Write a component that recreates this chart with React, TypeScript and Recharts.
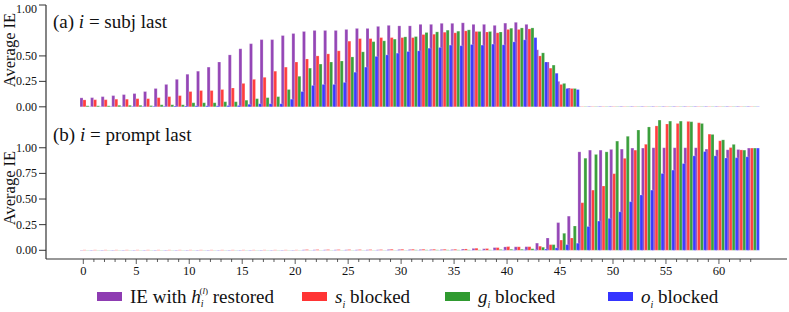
import React from 'react';
import { BarChart, Bar, XAxis, YAxis, Legend } from 'recharts';

// ---------------- data ----------------
const layers = [
  0, 1, 2, 3, 4, 5, 6, 7, 8, 9, 10, 11, 12, 13, 14, 15, 16, 17, 18, 19, 20, 21, 22, 23, 24, 25, 26, 27, 28, 29, 30, 31,
  32, 33, 34, 35, 36, 37, 38, 39, 40, 41, 42, 43, 44, 45, 46, 47, 48, 49, 50, 51, 52, 53, 54, 55, 56, 57, 58, 59, 60, 61, 62, 63,
];

const yTicks = [0, 0.25, 0.5, 0.75, 1.0];

const seriesNames = ['IE with h restored', 's blocked', 'g blocked', 'o blocked'];

// (a) i = subj last
const restoredA = [
  0.088, 0.09, 0.1, 0.11, 0.12, 0.13, 0.15, 0.18, 0.22, 0.27, 0.32, 0.35, 0.39, 0.44, 0.51, 0.57,
  0.62, 0.66, 0.66, 0.7, 0.72, 0.74, 0.75, 0.75, 0.75, 0.76, 0.77, 0.77, 0.79, 0.8, 0.795, 0.795,
  0.81, 0.81, 0.82, 0.82, 0.825, 0.81, 0.81, 0.8, 0.822, 0.83, 0.81, 0.56, 0.44, 0.25, 0.185, 0.004,
  0.004, 0.004, 0.004, 0.004, 0.004, 0.004, 0.004, 0.004, 0.004, 0.004, 0.004, 0.004, 0.004, 0.004, 0.004, 0.004,
];
const sBlockedA = [
  0.068, 0.07, 0.07, 0.075, 0.075, 0.08, 0.08, 0.09, 0.1, 0.11, 0.15, 0.16, 0.16, 0.17, 0.185, 0.23,
  0.27, 0.29, 0.35, 0.39, 0.44, 0.47, 0.5, 0.52, 0.55, 0.645, 0.67, 0.67, 0.68, 0.68, 0.68, 0.68,
  0.71, 0.713, 0.733, 0.727, 0.746, 0.74, 0.735, 0.727, 0.76, 0.76, 0.765, 0.5, 0.38, 0.22, 0.18, 0.003,
  0.003, 0.003, 0.003, 0.003, 0.003, 0.003, 0.003, 0.003, 0.003, 0.003, 0.003, 0.003, 0.003, 0.003, 0.003, 0.003,
];
const gBlockedA = [
  0.01, 0.01, 0.01, 0.015, 0.015, 0.015, 0.012, 0.02, 0.02, 0.02, 0.04, 0.04, 0.04, 0.05, 0.05, 0.065,
  0.08, 0.09, 0.1, 0.17, 0.3, 0.38, 0.42, 0.44, 0.45, 0.49, 0.54, 0.64, 0.648, 0.665, 0.687, 0.69,
  0.73, 0.736, 0.753, 0.743, 0.756, 0.74, 0.74, 0.735, 0.772, 0.775, 0.775, 0.53, 0.41, 0.23, 0.18, 0.003,
  0.003, 0.003, 0.003, 0.003, 0.003, 0.003, 0.003, 0.003, 0.003, 0.003, 0.003, 0.003, 0.003, 0.003, 0.003, 0.003,
];
const oBlockedA = [
  0.003, 0.003, 0.004, 0.004, 0.005, 0.005, 0.006, 0.006, 0.008, 0.008, 0.01, 0.01, 0.01, 0.012, 0.013, 0.025,
  0.03, 0.03, 0.03, 0.075, 0.15, 0.21, 0.22, 0.22, 0.24, 0.34, 0.39, 0.495, 0.51, 0.527, 0.543, 0.55,
  0.576, 0.583, 0.606, 0.6, 0.612, 0.606, 0.616, 0.609, 0.638, 0.658, 0.68, 0.44, 0.33, 0.18, 0.17, 0.003,
  0.003, 0.003, 0.003, 0.003, 0.003, 0.003, 0.003, 0.003, 0.003, 0.003, 0.003, 0.003, 0.003, 0.003, 0.003, 0.003,
];

// (b) i = prompt last
const restoredB = [
  0.003, 0.003, 0.003, 0.003, 0.003, 0.003, 0.003, 0.003, 0.003, 0.003, 0.003, 0.003, 0.003, 0.003, 0.003, 0.003,
  0.003, 0.003, 0.003, 0.003, 0.003, 0.005, 0.005, 0.005, 0.005, 0.005, 0.005, 0.005, 0.005, 0.008, 0.008, 0.008,
  0.008, 0.008, 0.008, 0.008, 0.012, 0.018, 0.015, 0.026, 0.033, 0.034, 0.035, 0.07, 0.12, 0.27, 0.333, 0.96,
  0.977, 0.977, 0.984, 0.987, 0.997, 0.997, 1.0, 1.0, 1.0, 1.0, 1.0, 0.987, 0.98, 0.98, 0.983, 0.997,
];
const sBlockedB = [
  0.004, 0.004, 0.004, 0.004, 0.004, 0.004, 0.004, 0.004, 0.004, 0.004, 0.004, 0.004, 0.004, 0.004, 0.004, 0.004,
  0.004, 0.004, 0.004, 0.004, 0.004, 0.007, 0.007, 0.007, 0.007, 0.007, 0.007, 0.007, 0.007, 0.01, 0.01, 0.01,
  0.01, 0.01, 0.01, 0.01, 0.013, 0.02, 0.017, 0.026, 0.036, 0.034, 0.035, 0.04, 0.055, 0.1, 0.12, 0.464,
  0.587, 0.627, 0.747, 0.897, 0.977, 1.034, 1.213, 1.232, 1.237, 1.257, 1.244, 1.133, 1.068, 1.002, 0.979, 0.997,
];
const gBlockedB = [
  0.002, 0.002, 0.002, 0.002, 0.002, 0.002, 0.002, 0.002, 0.002, 0.002, 0.002, 0.002, 0.002, 0.002, 0.002, 0.002,
  0.002, 0.002, 0.002, 0.002, 0.002, 0.002, 0.002, 0.002, 0.002, 0.002, 0.002, 0.002, 0.002, 0.002, 0.002, 0.004,
  0.004, 0.004, 0.004, 0.004, 0.004, 0.004, 0.004, 0.008, 0.01, 0.01, 0.015, 0.03, 0.055, 0.166, 0.237, 0.898,
  0.935, 0.96, 1.065, 1.112, 1.173, 1.203, 1.27, 1.26, 1.26, 1.254, 1.237, 1.13, 1.077, 1.033, 0.977, 0.997,
];
const oBlockedB = [
  0.002, 0.002, 0.002, 0.002, 0.002, 0.002, 0.002, 0.002, 0.002, 0.002, 0.002, 0.002, 0.002, 0.002, 0.002, 0.002,
  0.002, 0.002, 0.002, 0.002, 0.002, 0.002, 0.002, 0.002, 0.002, 0.002, 0.002, 0.002, 0.002, 0.002, 0.002, 0.002,
  0.002, 0.002, 0.002, 0.002, 0.002, 0.002, 0.002, 0.004, 0.005, 0.006, 0.006, 0.012, 0.023, 0.055, 0.069, 0.232,
  0.285, 0.311, 0.375, 0.474, 0.539, 0.587, 0.749, 0.782, 0.846, 0.921, 0.963, 0.921, 0.9, 0.903, 0.912, 0.997,
];

// ---------------- styles ----------------
const FONT = "'Liberation Serif', 'DejaVu Serif', serif";
const COLORS = ['#8e3cb2', '#ff3434', '#2f9a30', '#3434ff'];
const AXIS = '#333333';
const W = 789;

const rowsA = layers.map((l, i) => ({ layer: l, h: restoredA[i], s: sBlockedA[i], g: gBlockedA[i], o: oBlockedA[i] }));
const rowsB = layers.map((l, i) => ({ layer: l, h: restoredB[i], s: sBlockedB[i], g: gBlockedB[i], o: oBlockedB[i] }));

const X_PAD = { left: 34, right: 29 };
const TICK_SHIFT = -2;

const XTick = (props: any) => {
  const { x, y, payload } = props;
  const L = Number(payload.value);
  const major = L % 5 === 0;
  const tx = x + TICK_SHIFT;
  return (
    <g>
      <line x1={tx} x2={tx} y1={y} y2={y + (major ? 5 : 3)} stroke={AXIS} strokeWidth={0.8} />
      {major && (
        <text x={tx} y={y + 16} textAnchor="middle" fontSize={12.5} style={{ fontFamily: FONT }} fill="#111">
          {L}
        </text>
      )}
    </g>
  );
};

const YTick = (props: any) => {
  const { x, y, payload } = props;
  return (
    <text x={x} y={y} dy={4} textAnchor="end" fontSize={12} style={{ fontFamily: FONT }} fill="#111">
      {Number(payload.value).toFixed(2)}
    </text>
  );
};

const legendItems = [
  { left: 97, color: COLORS[0], key: 'h' },
  { left: 302, color: COLORS[1], key: 's' },
  { left: 445, color: COLORS[2], key: 'g' },
  { left: 608, color: COLORS[3], key: 'o' },
];

const renderLegend = () => (
  <svg width={W - 2} height={31} style={{ display: 'block' }}>
    {legendItems.map((it, i) => (
      <g key={i} transform={`translate(${it.left},0)`} style={{ fontFamily: FONT }} fill="#111">
        <rect x={0} y={11} width={25} height={9} fill={it.color} />
        {it.key === 'h' ? (
          <text x={33} y={22} fontSize={19}>
            IE with <tspan fontStyle="italic">h</tspan>
            <tspan fontSize={10} fontStyle="italic" dy={4}>i</tspan>
            <tspan fontSize={9} dx={-4} dy={-13}>(</tspan>
            <tspan fontSize={9} fontStyle="italic">l</tspan>
            <tspan fontSize={9}>)</tspan>
            <tspan dy={9}> restored</tspan>
          </text>
        ) : (
          <text x={33} y={22} fontSize={19}>
            <tspan fontStyle="italic">{it.key}</tspan>
            <tspan fontSize={10} fontStyle="italic" dy={5}>i</tspan>
            <tspan dy={-5}>  blocked</tspan>
          </text>
        )}
      </g>
    ))}
  </svg>
);

function panelBars() {
  return ['h', 's', 'g', 'o'].map((k, i) => (
    <Bar
      key={k}
      dataKey={k}
      name={seriesNames[i]}
      fill={COLORS[i]}
      fillOpacity={0.95}
      stroke="#ffffff"
      strokeOpacity={0.55}
      strokeWidth={0.4}
      isAnimationActive={false}
    />
  ));
}

const frameAxes = (domain: number[]) => [
  <XAxis key="xt" xAxisId="top" orientation="top" dataKey="layer" height={0} tick={false} tickLine={false} axisLine={{ stroke: AXIS, strokeWidth: 1.2 }} padding={X_PAD} />,
  <YAxis key="yr" yAxisId="right" orientation="right" width={0} tick={false} tickLine={false} axisLine={{ stroke: AXIS, strokeWidth: 1.2 }} domain={domain} type="number" allowDataOverflow />,
];

const Overlay = () => (
  <svg width={W} height={312} style={{ position: 'absolute', left: 0, top: 0, pointerEvents: 'none' }}>
    <g style={{ fontFamily: FONT }} fill="#111">
      <text x={53} y={28} fontSize={19}>
        (a) <tspan fontStyle="italic">i</tspan> = subj last
      </text>
      <text x={53} y={141} fontSize={19}>
        (b) <tspan fontStyle="italic">i</tspan> = prompt last
      </text>
      <text x={15} y={50} fontSize={16.5} textAnchor="middle" transform="rotate(-90 15 50)">
        Average IE
      </text>
      <text x={15} y={188} fontSize={16.5} textAnchor="middle" transform="rotate(-90 15 188)">
        Average IE
      </text>
    </g>
  </svg>
);

export default function App() {
  const domainA = [-0.1, 1.0];
  const domainB = [-0.085, 1.3];
  return (
    <div style={{ position: 'absolute', left: 0, top: 0, width: W, height: 312, background: '#fff', overflow: 'hidden' }}>
      <div style={{ position: 'absolute', left: 0, top: 0 }}>
        <BarChart width={W} height={122} data={rowsA} margin={{ top: 5, right: 2, bottom: 5, left: 0 }} barCategoryGap={0} barGap={0}>
          <XAxis dataKey="layer" height={0} tick={false} tickLine={false} axisLine={{ stroke: AXIS, strokeWidth: 1.2 }} padding={X_PAD} />
          <YAxis
            type="number"
            domain={domainA}
            ticks={yTicks}
            allowDataOverflow
            width={46}
            tick={<YTick />}
            tickSize={7}
            tickMargin={2}
            tickLine={{ stroke: AXIS }}
            axisLine={{ stroke: AXIS, strokeWidth: 1.2 }}
          />
          {frameAxes(domainA)}
          {panelBars()}
        </BarChart>
      </div>
      <div style={{ position: 'absolute', left: 0, top: 112 }}>
        <BarChart width={W} height={200} data={rowsB} margin={{ top: 5, right: 2, bottom: 0, left: 0 }} barCategoryGap={0} barGap={0}>
          <XAxis dataKey="layer" height={22} interval={0} tick={<XTick />} tickLine={false} tickSize={0} tickMargin={0} axisLine={{ stroke: AXIS, strokeWidth: 1.2 }} padding={X_PAD} />
          <YAxis
            type="number"
            domain={domainB}
            ticks={yTicks}
            allowDataOverflow
            width={46}
            tick={<YTick />}
            tickSize={7}
            tickMargin={2}
            tickLine={{ stroke: AXIS }}
            axisLine={{ stroke: AXIS, strokeWidth: 1.2 }}
          />
          {frameAxes(domainB)}
          {panelBars()}
          <Legend verticalAlign="bottom" align="left" height={31} content={renderLegend} wrapperStyle={{ left: 0, width: W - 2 }} />
        </BarChart>
      </div>
      <Overlay />
    </div>
  );
}
